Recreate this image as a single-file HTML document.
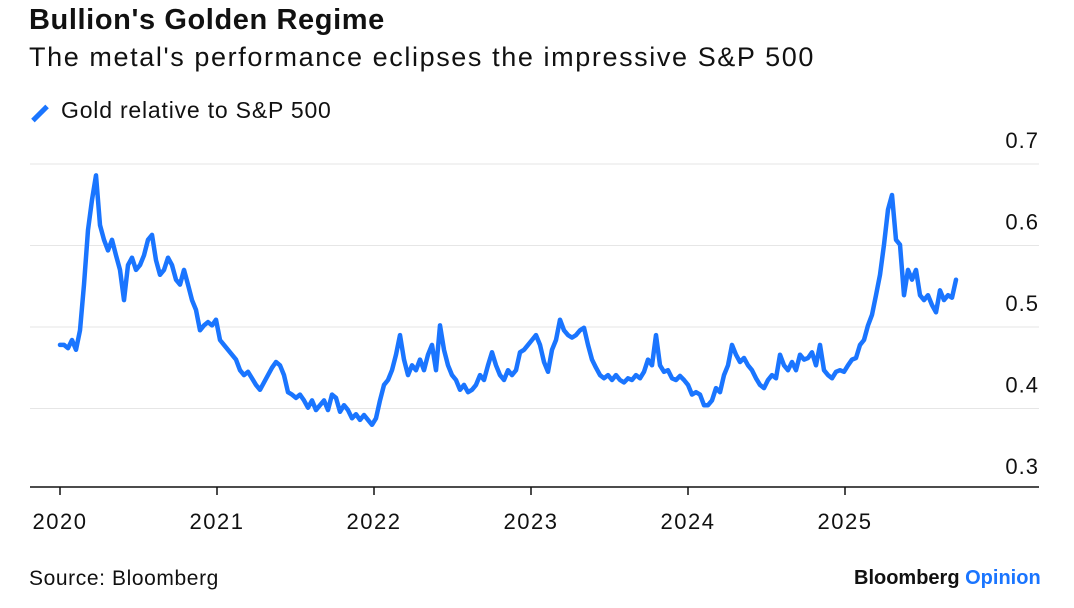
<!DOCTYPE html>
<html><head><meta charset="utf-8">
<style>
body{margin:0;background:#fff;font-family:"Liberation Sans",sans-serif;}
#wrap{position:relative;width:1074px;height:608px;overflow:hidden;}
.t{position:absolute;white-space:nowrap;color:#111;}
</style></head>
<body>
<div id="wrap">
<div class="t" style="left:29px;top:4px;font-size:29px;font-weight:bold;letter-spacing:0.6px;">Bullion's Golden Regime</div>
<div class="t" style="left:29px;top:42px;font-size:27px;letter-spacing:1.6px;">The metal's performance eclipses the impressive S&amp;P 500</div>
<div style="position:absolute;left:30px;top:109px;width:20px;height:5px;background:#1a75ff;transform:rotate(-45deg);transform-origin:center;margin-top:2px;"></div>
<div class="t" style="left:61px;top:97px;font-size:23px;letter-spacing:0.8px;">Gold relative to S&amp;P 500</div>
<svg id="chart" width="1074" height="608" style="position:absolute;left:0;top:0;"></svg>
<div class="t" style="left:29px;top:567px;font-size:21px;letter-spacing:0.6px;">Source: Bloomberg</div>
<div class="t" style="left:854px;top:567px;font-size:20px;font-weight:bold;letter-spacing:0px;">Bloomberg <span style="color:#1a75ff">Opinion</span></div>
</div>
<script>
const yTicks=[0.3,0.4,0.5,0.6,0.7];
const yTickLabels=["0.3","0.4","0.5","0.6","0.7"];
const xTicks=[2020,2021,2022,2023,2024,2025];
const xTickLabels=["2020","2021","2022","2023","2024","2025"];
const startYear=2020.0;
const stepYears=4/157;
const values=[0.478,0.478,0.474,0.484,0.472,0.496,0.552,0.619,0.656,0.686,0.625,0.607,0.594,0.607,0.588,0.570,0.533,0.576,0.585,0.570,0.576,0.588,0.607,0.613,0.582,0.564,0.570,0.585,0.576,0.558,0.552,0.570,0.552,0.533,0.521,0.496,0.502,0.506,0.502,0.509,0.484,0.478,0.472,0.466,0.460,0.447,0.441,0.445,0.437,0.429,0.423,0.432,0.441,0.450,0.457,0.453,0.441,0.420,0.417,0.413,0.417,0.410,0.401,0.410,0.398,0.404,0.410,0.398,0.417,0.413,0.396,0.404,0.398,0.388,0.393,0.386,0.392,0.386,0.380,0.388,0.410,0.429,0.435,0.447,0.466,0.490,0.460,0.441,0.453,0.447,0.460,0.447,0.466,0.478,0.447,0.502,0.472,0.453,0.441,0.435,0.423,0.429,0.420,0.423,0.429,0.441,0.435,0.453,0.469,0.453,0.441,0.435,0.447,0.441,0.447,0.469,0.472,0.478,0.484,0.490,0.478,0.457,0.445,0.472,0.484,0.509,0.496,0.490,0.487,0.490,0.496,0.499,0.478,0.460,0.450,0.441,0.437,0.441,0.435,0.441,0.435,0.432,0.437,0.435,0.441,0.437,0.445,0.460,0.453,0.490,0.453,0.445,0.447,0.437,0.435,0.440,0.435,0.429,0.417,0.420,0.417,0.404,0.404,0.410,0.425,0.420,0.441,0.453,0.478,0.466,0.457,0.462,0.453,0.447,0.437,0.429,0.425,0.435,0.441,0.437,0.466,0.453,0.447,0.457,0.447,0.466,0.460,0.462,0.469,0.453,0.478,0.447,0.441,0.437,0.445,0.447,0.445,0.453,0.460,0.462,0.478,0.484,0.502,0.515,0.539,0.564,0.601,0.644,0.662,0.607,0.601,0.539,0.570,0.558,0.570,0.539,0.533,0.539,0.527,0.518,0.545,0.533,0.539,0.536,0.558];
const svg=document.getElementById('chart');
const NS='http://www.w3.org/2000/svg';
const x0=30,x1=1039;
function xScale(yr){return 60+(yr-2020)*157;}
function yScale(v){return 164+(0.7-v)*815;}
function mk(tag,attrs){const e=document.createElementNS(NS,tag);for(const k in attrs)e.setAttribute(k,attrs[k]);svg.appendChild(e);return e;}
yTicks.forEach((t,i)=>{
  if(t>0.3){const g=mk('line',{x1:x0,x2:x1,y1:yScale(t),y2:yScale(t),stroke:'#e6e6e6','stroke-width':1});
  
  }
  const l=mk('text',{x:x1,y:yScale(t)-16,'text-anchor':'end','font-size':22,'letter-spacing':1,fill:'#111','font-family':'Liberation Sans, sans-serif'});
  l.textContent=yTickLabels[i];
  
  
});
const ax=mk('line',{x1:x0,x2:x1,y1:487,y2:487,stroke:'#111','stroke-width':1.5});


xTicks.forEach((t,i)=>{
  const tk=mk('line',{x1:xScale(t),x2:xScale(t),y1:487,y2:495,stroke:'#111','stroke-width':1.5});
  
  
  const l=mk('text',{x:xScale(t),y:529,'text-anchor':'middle','font-size':22,'letter-spacing':1.5,fill:'#111','font-family':'Liberation Sans, sans-serif'});
  l.textContent=xTickLabels[i];
  
  
});
const d=values.map((v,i)=>(i?'L':'M')+xScale(startYear+i*stepYears).toFixed(1)+','+yScale(v).toFixed(1)).join('');
const p=mk('path',{d:d,fill:'none',stroke:'#1a75ff','stroke-width':4.5,'stroke-linejoin':'round','stroke-linecap':'round'});


</script>
</body></html>
